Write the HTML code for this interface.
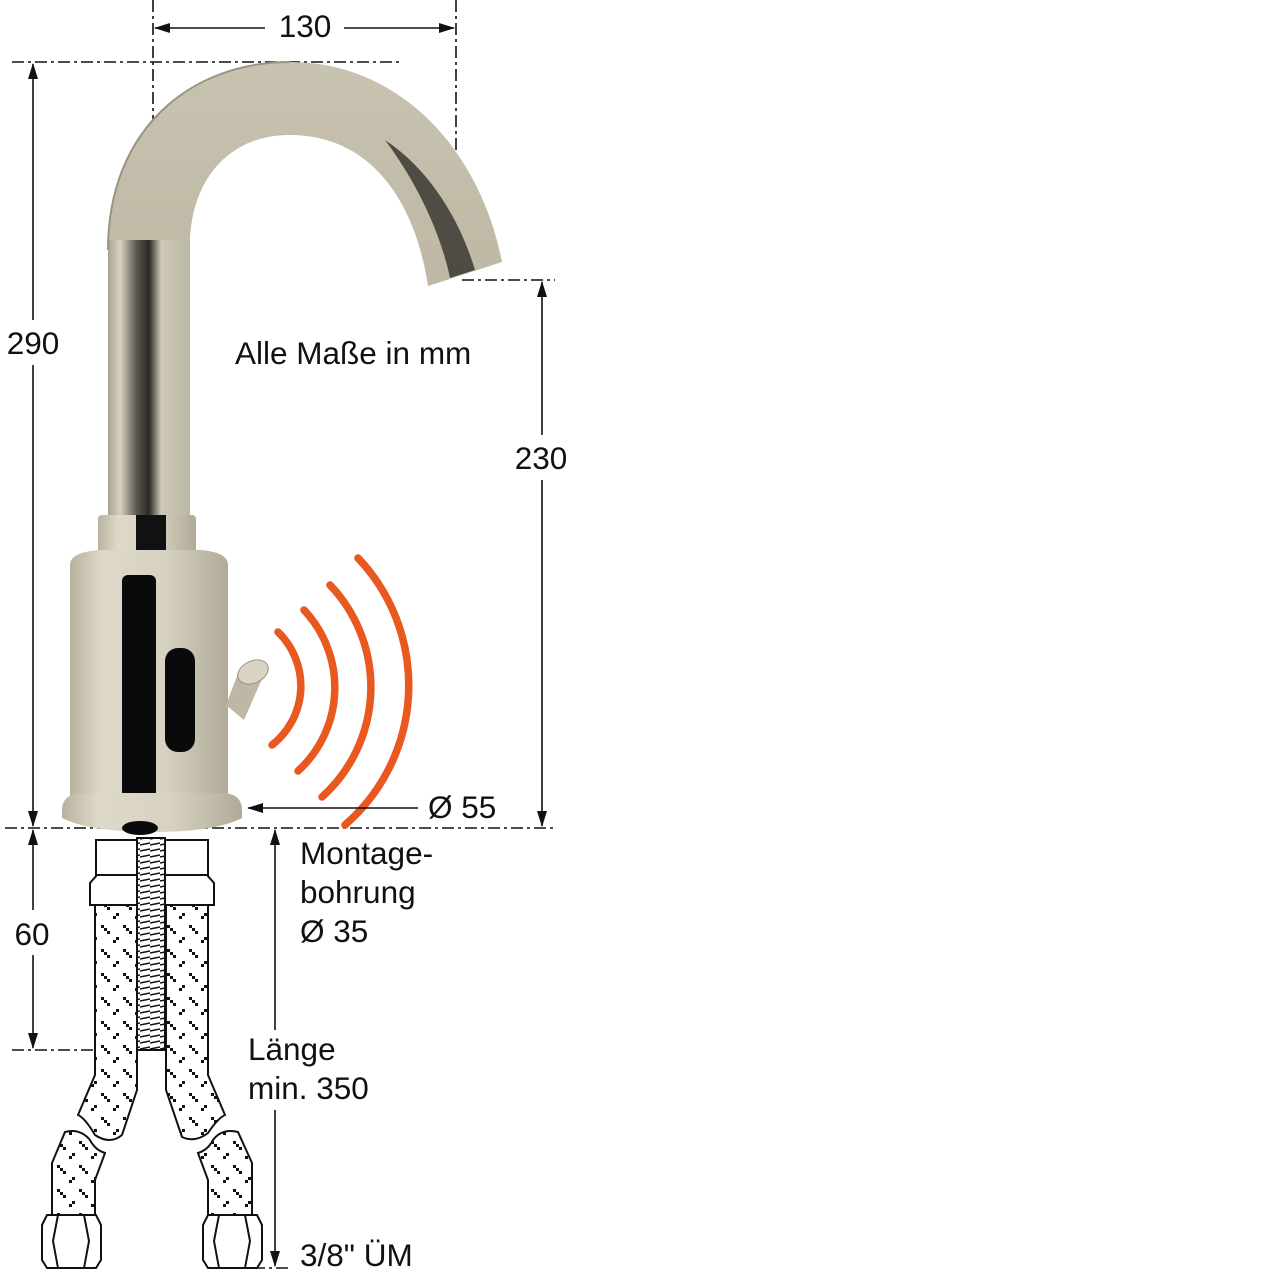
<!DOCTYPE html>
<html><head><meta charset="utf-8"><style>
html,body{margin:0;padding:0;background:#fff;}
svg{display:block;}
text{font-family:"Liberation Sans",sans-serif;font-size:31.5px;fill:#111;}
</style></head><body>
<svg width="1280" height="1280" viewBox="0 0 1280 1280" xmlns="http://www.w3.org/2000/svg">
<defs>
<linearGradient id="tube" x1="0" x2="1" y1="0" y2="0">
<stop offset="0" stop-color="#a9a391"/><stop offset="0.15" stop-color="#d6d1c0"/><stop offset="0.35" stop-color="#5a574f"/><stop offset="0.5" stop-color="#2a2926"/><stop offset="0.65" stop-color="#cfc9b7"/><stop offset="1" stop-color="#bdb7a5"/>
</linearGradient>
<linearGradient id="body" x1="0" x2="1" y1="0" y2="0">
<stop offset="0" stop-color="#b8b29f"/><stop offset="0.2" stop-color="#ddd8c8"/><stop offset="0.6" stop-color="#d7d2c1"/><stop offset="1" stop-color="#b0aa97"/>
</linearGradient>
<linearGradient id="arc" x1="0" x2="0" y1="0" y2="1">
<stop offset="0" stop-color="#c8c2b0"/><stop offset="0.5" stop-color="#bdb7a4"/><stop offset="1" stop-color="#a6a08d"/>
</linearGradient>
<pattern id="braid" width="22" height="24" patternUnits="userSpaceOnUse">
<rect width="22" height="24" fill="#fff"/>
<g fill="#111"><rect x="3" y="4" width="3" height="3"/><rect x="6" y="1" width="3" height="3"/><rect x="13" y="13" width="3" height="3"/><rect x="16" y="16" width="3" height="3"/><rect x="19" y="19" width="3" height="3"/></g>
</pattern>
<pattern id="thread" width="10" height="6" patternUnits="userSpaceOnUse">
<rect width="10" height="6" fill="#fff"/><line x1="0" y1="5" x2="10" y2="3" stroke="#111" stroke-width="1.5"/>
</pattern>
<marker id="ah" markerWidth="16" markerHeight="10" refX="15" refY="5" orient="auto" markerUnits="userSpaceOnUse">
<path d="M0,0 L16,5 L0,10 Z" fill="#111"/></marker>
</defs>

<g stroke="#111" stroke-width="1.6" stroke-dasharray="12,4,3,4" fill="none">
<line x1="153" y1="0" x2="153" y2="140"/>
<line x1="456" y1="0" x2="456" y2="150"/>
<line x1="12" y1="62" x2="400" y2="62"/>
<line x1="462" y1="280" x2="555" y2="280"/>
<line x1="5" y1="828" x2="555" y2="828"/>
<line x1="12" y1="1050" x2="95" y2="1050"/>
<line x1="230" y1="1268" x2="290" y2="1268"/>
</g>

<path d="M108,520 L108,250 C108,130 190,62 290,62 C400,62 480,150 502,262 L428,286 C415,200 370,135 290,135 C225,135 190,185 190,245 L190,520 Z" fill="url(#arc)"/>
<rect x="108" y="240" width="82" height="285" fill="url(#tube)"/>
<path d="M385,140 C430,170 460,220 475,270 L450,278 C440,230 415,180 385,140 Z" fill="#3a3833" opacity="0.85"/>
<path d="M108,250 C108,130 190,62 290,62" fill="none" stroke="#9a9482" stroke-width="2"/>

<rect x="98" y="515" width="98" height="38" rx="4" fill="url(#body)"/>
<rect x="136" y="515" width="30" height="38" fill="#111"/>
<path d="M70,565 Q70,552 100,550 L200,550 Q228,552 228,565 L228,800 L70,800 Z" fill="url(#body)"/>
<rect x="122" y="575" width="34" height="238" rx="6" fill="#0a0a0a"/>
<rect x="165" y="648" width="30" height="104" rx="13" fill="#0a0a0a"/>
<path d="M226,705 L240,668 L265,672 L244,720 Z" fill="#bdb7a4"/>
<ellipse cx="253" cy="672" rx="16" ry="11" transform="rotate(-25 253 672)" fill="#d9d4c4" stroke="#9a9482"/>
<path d="M62,810 Q62,795 80,793 L225,793 Q242,795 242,810 L242,818 Q215,832 152,832 Q90,832 62,818 Z" fill="url(#body)"/>
<ellipse cx="140" cy="828" rx="18" ry="7" fill="#0a0a0a"/>

<g fill="none" stroke="#e8581f" stroke-width="7.5" stroke-linecap="round">
<path d="M278,632 A75,75 0 0 1 272,745"/>
<path d="M304,610 A113,113 0 0 1 298,771"/>
<path d="M330,585 A148,148 0 0 1 322,797"/>
<path d="M358,558 A185,185 0 0 1 345,825"/>
</g>

<g stroke="#111" stroke-width="2">
<rect x="96" y="840" width="112" height="36" fill="#fff"/>
<path d="M90,883 L97,875 L207,875 L214,883 L214,905 L90,905 Z" fill="#fff"/>
<line x1="143" y1="875" x2="143" y2="905"/><line x1="162" y1="875" x2="162" y2="905"/>
<rect x="137" y="838" width="28" height="212" fill="url(#thread)"/>
<path d="M95,905 L137,905 L137,1090 L122,1135 Q110,1145 95,1135 Q85,1118 78,1115 L95,1075 Z" fill="url(#braid)"/>
<path d="M166,905 L208,905 L208,1075 L225,1115 Q218,1118 208,1133 Q195,1143 182,1137 L166,1090 Z" fill="url(#braid)"/>
<path d="M52,1163 L65,1132 Q80,1128 90,1140 Q95,1150 105,1153 L95,1180 L95,1215 L52,1215 Z" fill="url(#braid)"/>
<path d="M252,1163 L238,1132 Q222,1128 213,1140 Q208,1150 198,1153 L208,1180 L208,1215 L252,1215 Z" fill="url(#braid)"/>
<path d="M42,1225 L47,1215 L96,1215 L101,1225 L101,1260 L96,1268 L47,1268 L42,1260 Z" fill="#fff"/>
<path d="M58,1215 L53,1241 L58,1268 M84,1215 L89,1241 L84,1268" fill="none"/>
<path d="M203,1225 L208,1215 L257,1215 L262,1225 L262,1260 L257,1268 L208,1268 L203,1260 Z" fill="#fff"/>
<path d="M219,1215 L214,1241 L219,1268 M245,1215 L250,1241 L245,1268" fill="none"/>
</g>

<g stroke="#111" stroke-width="1.6" fill="none">
<line x1="265" y1="28" x2="155" y2="28" marker-end="url(#ah)"/>
<line x1="344" y1="28" x2="454" y2="28" marker-end="url(#ah)"/>
<line x1="33" y1="320" x2="33" y2="64" marker-end="url(#ah)"/>
<line x1="33" y1="365" x2="33" y2="826" marker-end="url(#ah)"/>
<line x1="542" y1="435" x2="542" y2="282" marker-end="url(#ah)"/>
<line x1="542" y1="480" x2="542" y2="826" marker-end="url(#ah)"/>
<line x1="33" y1="910" x2="33" y2="830" marker-end="url(#ah)"/>
<line x1="33" y1="955" x2="33" y2="1048" marker-end="url(#ah)"/>
<line x1="275" y1="1030" x2="275" y2="830" marker-end="url(#ah)"/>
<line x1="275" y1="1110" x2="275" y2="1266" marker-end="url(#ah)"/>
<line x1="418" y1="808" x2="248" y2="808" marker-end="url(#ah)"/>
</g>

<text x="305" y="37" text-anchor="middle">130</text>
<text x="33" y="354" text-anchor="middle">290</text>
<text x="541" y="469" text-anchor="middle">230</text>
<text x="32" y="945" text-anchor="middle">60</text>
<text x="235" y="364">Alle Maße in mm</text>
<text x="428" y="818">Ø 55</text>
<text x="300" y="864">Montage-</text>
<text x="300" y="903">bohrung</text>
<text x="300" y="942">Ø 35</text>
<text x="248" y="1060">Länge</text>
<text x="248" y="1099">min. 350</text>
<text x="300" y="1266">3/8" ÜM</text>
</svg>
</body></html>
